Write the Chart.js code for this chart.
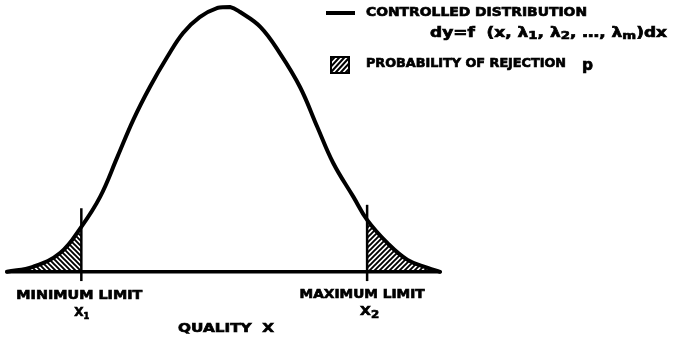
<!DOCTYPE html>
<html>
<head>
<meta charset="utf-8">
<script src="https://cdn.jsdelivr.net/npm/chart.js@4.4.1/dist/chart.umd.min.js"></script>
<style>
  html, body { margin: 0; padding: 0; background: #fff; }
  canvas { display: block; }
</style>
</head>
<body>
<canvas id="dist" width="673" height="339"></canvas>
<script>
// quality x (in spread units, centre = 0) and relative frequency dy
const quality = [-3.0, -2.64, -2.26, -1.97, -1.71, -1.47, -1.25, -1.02, -0.78, -0.56, -0.33, -0.09,
                 0.09, 0.23, 0.51, 0.78, 1.06, 1.30, 1.52, 1.80, 1.99, 2.27, 2.55, 2.83, 3.0];
const density = [0, 0.019, 0.072, 0.17, 0.283, 0.434, 0.574, 0.698, 0.811, 0.902, 0.962, 0.996,
                 1.0, 0.981, 0.925, 0.826, 0.698, 0.547, 0.411, 0.283, 0.196, 0.109, 0.045, 0.015, 0];

// minimum / maximum limit X1, X2 and the height of the tick marks there
const limits = [-1.97, 1.99];
const limitTop = [0.24, 0.253];
const limitBottom = -0.035;

const curve = quality.map((q, i) => ({ x: q, y: density[i] }));
const lowTail = curve.filter(p => p.x <= limits[0]);
const highTail = curve.filter(p => p.x >= limits[1]);

function hatch(dir) {
  const s = 5;
  const c = document.createElement('canvas');
  c.width = s; c.height = s;
  const g = c.getContext('2d');
  g.strokeStyle = '#000';
  g.lineWidth = 1.9;
  g.beginPath();
  if (dir === '/') {
    g.moveTo(-1, s + 1); g.lineTo(s + 1, -1);
    g.moveTo(-1, 1); g.lineTo(1, -1);
    g.moveTo(s - 1, s + 1); g.lineTo(s + 1, s - 1);
  } else {
    g.moveTo(-1, -1); g.lineTo(s + 1, s + 1);
    g.moveTo(-1, s - 1); g.lineTo(1, s + 1);
    g.moveTo(s - 1, -1); g.lineTo(s + 1, 1);
  }
  g.stroke();
  return g.createPattern(c, 'repeat');
}

const FONT = '"DejaVu Sans", sans-serif';

// draws a run of text pieces squeezed/stretched to a given width
function drawRuns(ctx, runs, x, y, width) {
  let total = 0;
  runs.forEach(r => {
    ctx.font = 'bold ' + r.size + 'px ' + FONT;
    r.w = ctx.measureText(r.t).width;
    total += r.w;
  });
  const k = width / total;
  ctx.save();
  ctx.translate(x, y);
  ctx.scale(k, 1);
  ctx.lineWidth = 0.7;
  ctx.strokeStyle = '#000';
  let cx = 0;
  runs.forEach(r => {
    ctx.font = 'bold ' + r.size + 'px ' + FONT;
    ctx.fillText(r.t, cx, r.dy || 0);
    ctx.strokeText(r.t, cx, r.dy || 0);
    cx += r.w;
  });
  ctx.restore();
}

function drawLabel(ctx, text, cx, y, width, size) {
  drawRuns(ctx, [{ t: text, size: size || 13 }], cx - width / 2, y, width);
}

const annotations = {
  id: 'annotations',
  afterDraw(chart) {
    const ctx = chart.ctx;
    const xs = chart.scales.x;
    ctx.save();
    ctx.fillStyle = '#000';
    ctx.textBaseline = 'middle';
    ctx.textAlign = 'left';

    // legend
    ctx.strokeStyle = '#000';
    ctx.lineWidth = 4;
    ctx.beginPath();
    ctx.moveTo(326, 13); ctx.lineTo(355, 13);
    ctx.stroke();
    drawRuns(ctx, [{ t: 'CONTROLLED DISTRIBUTION', size: 13 }], 366, 13, 221);
    drawRuns(ctx, [
      { t: 'dy=f  (x, λ', size: 14 }, { t: '1', size: 11, dy: 3 },
      { t: ', λ', size: 14 }, { t: '2', size: 11, dy: 3 },
      { t: ', …, λ', size: 14 }, { t: 'm', size: 11, dy: 3 },
      { t: ')dx', size: 14 }
    ], 430, 33, 237);

    ctx.fillStyle = '#000';
    ctx.fillRect(330, 56, 20, 18);
    ctx.save();
    ctx.beginPath();
    ctx.rect(332, 58, 16, 14);
    ctx.clip();
    ctx.strokeStyle = '#fff';
    ctx.lineWidth = 1.6;
    ctx.beginPath();
    for (let i = -20; i < 30; i += 5) {
      ctx.moveTo(330 + i, 76); ctx.lineTo(350 + i, 54);
    }
    ctx.stroke();
    ctx.restore();
    drawRuns(ctx, [{ t: 'PROBABILITY OF REJECTION', size: 13 }], 366, 64, 200);
    drawRuns(ctx, [{ t: 'p', size: 16 }], 582, 66, 11);

    // limit and axis labels
    const x1 = xs.getPixelForValue(limits[0]);
    const x2 = xs.getPixelForValue(limits[1]);
    drawLabel(ctx, 'MINIMUM LIMIT', x1 - 2, 296, 126);
    drawLabel(ctx, 'MAXIMUM LIMIT', x2 - 5, 295, 125);
    drawRuns(ctx, [{ t: 'X', size: 13 }, { t: '1', size: 9, dy: 4 }], x1 - 7, 313, 15);
    drawRuns(ctx, [{ t: 'X', size: 13 }, { t: '2', size: 11, dy: 3 }], x2 - 7, 312, 19);
    drawLabel(ctx, 'QUALITY  X', 226, 329, 96);
    ctx.restore();
  }
};

const lineStyle = { pointRadius: 0, tension: 0.4 };

new Chart(document.getElementById('dist'), {
  type: 'line',
  data: {
    datasets: [
      { ...lineStyle, data: lowTail, fill: 'origin', backgroundColor: hatch('\\'), borderWidth: 0 },
      { ...lineStyle, data: highTail, fill: 'origin', backgroundColor: hatch('/'), borderWidth: 0 },
      {
        data: [{ x: quality[0], y: 0 }, { x: quality[quality.length - 1], y: 0 }],
        borderColor: '#000', borderWidth: 3.5, pointRadius: 0, borderCapStyle: 'round'
      },
      { ...lineStyle, data: curve, borderColor: '#000', borderWidth: 4, borderCapStyle: 'round', fill: false },
      {
        data: [{ x: limits[0], y: limitBottom }, { x: limits[0], y: limitTop[0] }],
        borderColor: '#000', borderWidth: 2.5, pointRadius: 0
      },
      {
        data: [{ x: limits[1], y: limitBottom }, { x: limits[1], y: limitTop[1] }],
        borderColor: '#000', borderWidth: 2.5, pointRadius: 0
      }
    ]
  },
  options: {
    responsive: false,
    animation: false,
    clip: false,
    layout: { padding: { left: 7, right: 233, top: 7, bottom: 1 } },
    scales: {
      x: { type: 'linear', min: -3, max: 3, display: false },
      y: { min: -0.25, max: 1, display: false }
    },
    plugins: { legend: { display: false }, tooltip: { enabled: false } }
  },
  plugins: [annotations]
});
</script>
</body>
</html>
